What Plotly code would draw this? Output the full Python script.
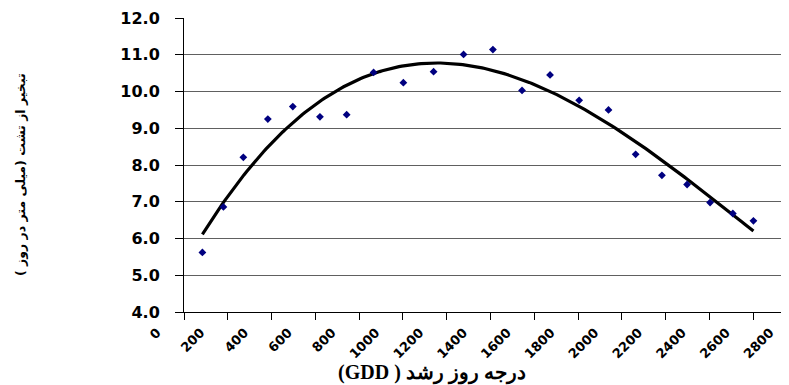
import numpy as np
import plotly.graph_objects as go

# Data
gdd = [84, 180, 271, 383, 497, 621, 743, 866, 1002, 1140, 1277,
       1411, 1544, 1672, 1805, 1939, 2063, 2183, 2298, 2403, 2507, 2601]
evap = [5.62, 6.86, 8.21, 9.25, 9.59, 9.31, 9.37, 10.52, 10.24, 10.54, 11.01,
        11.14, 10.03, 10.45, 9.76, 9.50, 8.29, 7.72, 7.47, 6.98, 6.68, 6.48]

x_tickvals = [0, 200, 400, 600, 800, 1000, 1200, 1400, 1600, 1800,
              2000, 2200, 2400, 2600, 2800]
x_ticktext = [str(v) for v in x_tickvals]
y_tickvals = [4, 5, 6, 7, 8, 9, 10, 11, 12]
y_ticktext = ["%.1f" % v for v in y_tickvals]

x_title = "\u202bدرجه روز رشد ( GDD)\u202c"
y_title = "\u202bتبخیر از تشت (میلی متر در روز )\u202c"

# Polynomial trendline fitted to the data
coef = np.polyfit(gdd, evap, 3)
xs = np.linspace(min(gdd), max(gdd), 200)
ys = np.polyval(coef, xs)

fig = go.Figure()
fig.add_trace(go.Scatter(
    x=xs, y=ys, mode="lines",
    line=dict(color="black", width=3.2),
    hoverinfo="skip", showlegend=False))
fig.add_trace(go.Scatter(
    x=gdd, y=evap, mode="markers",
    marker=dict(symbol="diamond", size=6, color="#000080"),
    showlegend=False))

# page offset of 8px (body margin) is compensated in the margins
L, R, T, B = 176, 0, 10, 81
W, H = 789, 385
pw, ph = W - L - R, H - T - B


def px(xp):
    return (xp - 8 - L) / pw


def py(yp):
    return (H - B - (yp - 8)) / ph


fig.update_layout(
    width=W, height=H,
    margin=dict(l=L, r=R, t=T, b=B),
    paper_bgcolor="white", plot_bgcolor="white",
    xaxis=dict(
        range=[0, 2800], tickvals=x_tickvals, ticktext=x_ticktext,
        tickangle=-45,
        tickfont=dict(family="DejaVu Sans", size=13, color="black", weight="bold"),
        ticks="outside", ticklen=7, tickcolor="black", tickwidth=1,
        ticklabelshift=-27, ticklabelstandoff=0,
        showline=True, linecolor="black", linewidth=1,
        showgrid=False, zeroline=False),
    yaxis=dict(
        range=[4, 12], tickvals=y_tickvals, ticktext=y_ticktext,
        tickfont=dict(family="DejaVu Sans", size=16, color="black", weight="bold"),
        ticks="outside", ticklen=8, tickcolor="black", tickwidth=1,
        ticklabelstandoff=12,
        showline=True, linecolor="black", linewidth=1,
        showgrid=True, gridcolor="#606060", gridwidth=1,
        zeroline=False),
    annotations=[
        dict(text=x_title, xref="paper", yref="paper",
             x=px(432), y=py(373), showarrow=False,
             xanchor="center", yanchor="middle",
             font=dict(family="Liberation Serif", size=20, color="black", weight="bold")),
        dict(text=y_title, xref="paper", yref="paper",
             x=px(20), y=py(175), showarrow=False, textangle=-90,
             xanchor="center", yanchor="middle",
             font=dict(family="DejaVu Sans", size=12.5, color="black", weight="bold")),
    ],
)

fig.write_html("out.html")
